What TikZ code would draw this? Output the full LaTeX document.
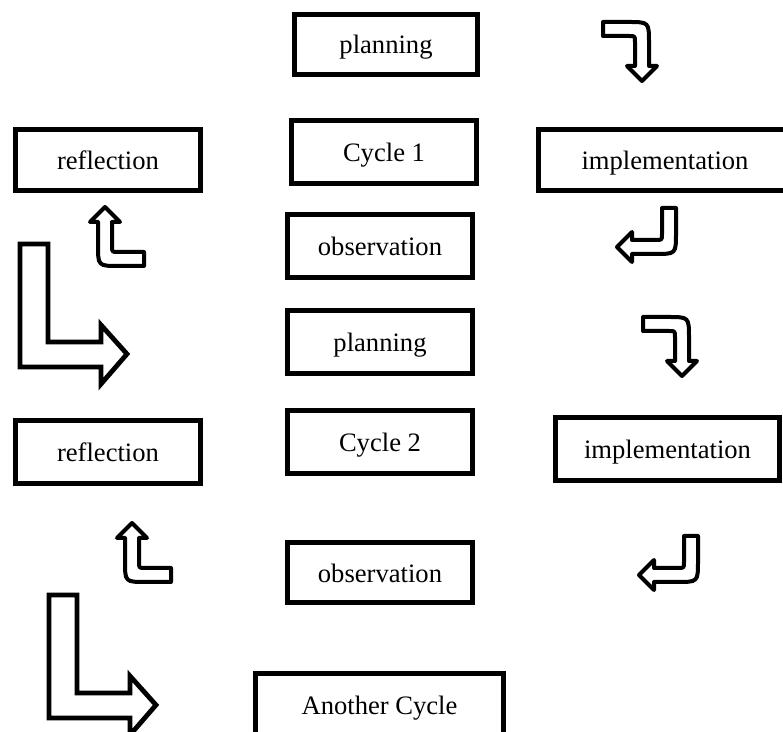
\documentclass[tikz,border=0pt]{standalone}
\usepackage{fontspec}
\setmainfont{Liberation Serif}
\usepackage{tikz}

\begin{document}
\begin{tikzpicture}[x=0.5pt, y=-0.5pt, box/.style={rectangle, draw, line width=2.5pt, minimum width=92.5pt, minimum height=31.5pt, inner sep=0pt, text height=9.5pt, text depth=0pt, font=\fontsize{13.3}{16}\selectfont}, arrow line/.style={draw, line width=2pt, fill=white, line join=round}, turn arrow/.pic={\path[arrow line] (0,0) -- (15,15) -- (7,15) -- (7,39) .. controls (7,45) .. (13,45) -- (39,45) -- (39,59) -- (14,59) .. controls (-7,59) .. (-7,38) -- (-7,15) -- (-15,15) -- cycle;}, corner arrow/.pic={\path[arrow line, line width=2.4pt, line join=miter] (0,0) -- (28,0) -- (28,98) -- (81,98) -- (81,81) -- (107,110) -- (81,140) -- (81,123) -- (0,123) -- cycle;}]
\useasboundingbox (0,0) rectangle (783,732);
% cycle 1
\node[box, minimum width=91.5pt, minimum height=30pt] (plan1) at (386,44.5) {planning};
\node[box] (cyc1) at (384,152) {Cycle 1};
\node[box] (obs1) at (380,246) {observation};
\node[box, minimum height=30.5pt] (refl1) at (108,160) {reflection};
\node[box, minimum width=126.5pt, minimum height=30.5pt] (impl1) at (665,160) {implementation};
\pic (down1) at (642,81) [rotate=180] {turn arrow};
\pic (enter1) at (617,247) [rotate=90] {turn arrow};
\pic (up1) at (105,207) {turn arrow};
\pic (corner1) at (20,244) {corner arrow};
% cycle 2
\node[box] (plan2) at (380,342.5) {planning};
\node[box] (cyc2) at (380,442.5) {Cycle 2};
\node[box, minimum height=30pt] (obs2) at (380,573) {observation};
\node[box] (refl2) at (108,452) {reflection};
\node[box, minimum width=112pt] (impl2) at (667.5,449) {implementation};
\pic (down2) at (682,376) [rotate=180] {turn arrow};
\pic (enter2) at (639,575) [rotate=90] {turn arrow};
\pic (up2) at (132,523) {turn arrow};
\pic (corner2) at (49,595) {corner arrow};
% next
\node[box, minimum width=124pt] (next) at (379.5,705) {Another Cycle};
\end{tikzpicture}
\end{document}
